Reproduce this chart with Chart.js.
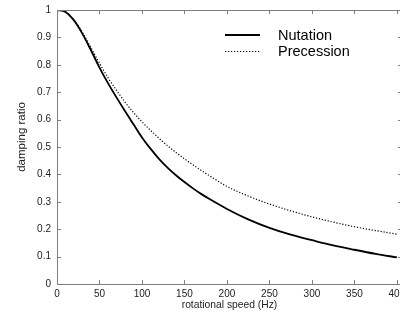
<!DOCTYPE html>
<html>
<head>
<meta charset="utf-8">
<script src="https://cdn.jsdelivr.net/npm/chart.js@4"></script>
<style>
  html, body { margin: 0; padding: 0; background: #fff; overflow: hidden; width: 400px; height: 320px; }
  canvas { display: block; }
</style>
</head>
<body>
<canvas id="myChart" width="402" height="320"></canvas>
<script>
// rotational speed (Hz) where the curves were read
const speed = [0, 10, 20, 30, 40, 50, 60, 70, 80, 90, 100, 110, 120, 130, 140, 150, 160, 170, 180, 200, 225, 250, 275, 300, 325, 350, 375, 400];
const nutation = [1.0, 0.993, 0.962, 0.913, 0.853, 0.79, 0.733, 0.681, 0.631, 0.583, 0.535, 0.494, 0.457, 0.425, 0.397, 0.372, 0.349, 0.328, 0.309, 0.274, 0.236, 0.205, 0.18, 0.16, 0.141, 0.125, 0.11, 0.097];
const precession = [1.0, 0.993, 0.964, 0.918, 0.862, 0.806, 0.753, 0.707, 0.664, 0.626, 0.592, 0.561, 0.532, 0.505, 0.48, 0.457, 0.435, 0.414, 0.394, 0.356, 0.321, 0.292, 0.267, 0.245, 0.226, 0.209, 0.195, 0.182];
const seriesNames = ["Nutation", "Precession"];
const xTicks = [0, 50, 100, 150, 200, 250, 300, 350, 400];
const xTitle = "rotational speed (Hz)";
const yTitle = "damping ratio";

const axisColor = "#7f7f7f";
const font = "'Liberation Sans', Arial, sans-serif";

function pts(ys){
    return speed.map((x, i) => ({x: x, y: ys[i]}));
}

// matlab style box with ticks pointing inside
const framePlugin = {
    id: "frame",
    afterDatasetsDraw(chart){
        const {ctx, chartArea: a, scales} = chart;
        ctx.save();
        ctx.strokeStyle = axisColor;
        ctx.lineWidth = 1;
        ctx.strokeRect(a.left + 0.5, a.top + 0.5, a.right - a.left, a.bottom - a.top);
        ctx.beginPath();
        scales.x.ticks.forEach(t => {
            let px = Math.round(scales.x.getPixelForValue(t.value)) + 0.5;
            ctx.moveTo(px, a.bottom); ctx.lineTo(px, a.bottom - 4);
            ctx.moveTo(px, a.top); ctx.lineTo(px, a.top + 4);
        });
        scales.y.ticks.forEach(t => {
            let py = Math.round(scales.y.getPixelForValue(t.value)) + 0.5;
            ctx.moveTo(a.left, py); ctx.lineTo(a.left + 4, py);
            ctx.moveTo(a.right, py); ctx.lineTo(a.right - 4, py);
        });
        ctx.stroke();
        // y axis title, sits a bit above the middle in the original
        ctx.fillStyle = "#222";
        ctx.font = "11.5px " + font;
        ctx.textAlign = "center";
        ctx.textBaseline = "middle";
        ctx.translate(22, 137);
        ctx.rotate(-Math.PI / 2);
        ctx.fillText(yTitle, 0, 0);
        ctx.restore();
    }
};

// legend drawn inside the plot like the original figure
const legendPlugin = {
    id: "inlegend",
    afterDraw(chart){
        const ctx = chart.ctx;
        ctx.save();
        ctx.font = "14.5px " + font;
        ctx.fillStyle = "#000";
        ctx.textBaseline = "middle";
        chart.data.datasets.forEach((ds, i) => {
            let y = 35 + i * 16.5;
            ctx.strokeStyle = "#000";
            ctx.lineWidth = ds.borderWidth;
            ctx.setLineDash(ds.borderDash || []);
            ctx.beginPath();
            ctx.moveTo(225, y); ctx.lineTo(260, y);
            ctx.stroke();
            ctx.fillText(ds.label, 278, y + 0.5);
        });
        ctx.restore();
    }
};

const ctx = document.getElementById('myChart').getContext('2d');
const myChart = new Chart(ctx, {
    type: 'line',
    data: {
        datasets: [
            {
                label: seriesNames[0],
                data: pts(nutation),
                borderColor: "#000",
                borderWidth: 1.8,
                pointRadius: 0,
                cubicInterpolationMode: 'monotone'
            },
            {
                label: seriesNames[1],
                data: pts(precession),
                borderColor: "#000",
                borderWidth: 1.2,
                borderDash: [1.2, 1.8],
                pointRadius: 0,
                cubicInterpolationMode: 'monotone'
            }
        ]
    },
    options: {
        responsive: false,
        animation: false,
        devicePixelRatio: 1,
        layout: { padding: { left: 0, top: 10, right: 0, bottom: 0 } },
        plugins: {
            legend: { display: false },
            tooltip: { enabled: false }
        },
        scales: {
            x: {
                type: 'linear',
                min: 0,
                max: 406,
                border: { display: false },
                grid: { display: false, drawTicks: false },
                ticks: { padding: 4, color: "#222", font: { family: font, size: 10 }, maxRotation: 0, autoSkip: false },
                title: { display: true, text: xTitle, color: "#222", font: { family: font, size: 10.3 }, padding: { top: 0, bottom: 9 } },
                afterBuildTicks(s){ s.ticks = xTicks.map(v => ({value: v})); },
                afterFit(s){ s.height = 36; s.paddingLeft = 0; s.paddingRight = 0; }
            },
            y: {
                min: 0,
                max: 1,
                border: { display: false },
                grid: { display: false, drawTicks: false },
                ticks: { stepSize: 0.1, padding: 6, color: "#222", font: { family: font, size: 10 },
                         callback: v => String(+v.toFixed(1)) },
                afterFit(s){ s.width = 57; s.paddingTop = 0; s.paddingBottom = 0; }
            }
        }
    },
    plugins: [framePlugin, legendPlugin]
});
</script>
</body>
</html>
